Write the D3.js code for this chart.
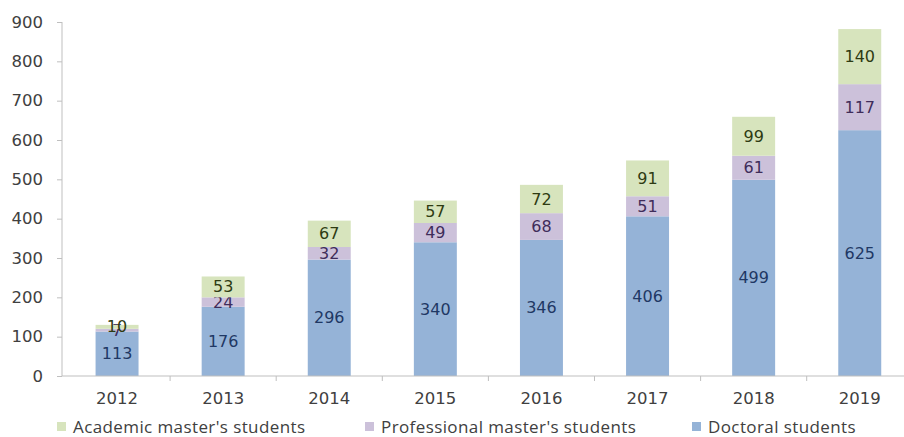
<!DOCTYPE html>
<html>
<head>
<meta charset="utf-8">
<script src="https://cdn.jsdelivr.net/npm/d3@7"></script>
<style>
  body { margin: 0; background: #fff; }
  text { font-family: "DejaVu Sans", sans-serif; }
  .axis path, .axis line { stroke: #bfbfbf; }
  .axis text { fill: #404040; font-size: 16.5px; }
  .lab { font-size: 16px; text-anchor: middle; dominant-baseline: central; }
  .leg { font-family: "Open Sans", sans-serif; font-size: 17px; letter-spacing: 0.4px; fill: #404040; dominant-baseline: central; }
</style>
</head>
<body>
<script>
// set up SVG
var w = 904;
var h = 437;

// plot edges
var pdL = 62;
var pdT = 22;
var yBase = 376;

// data
var years = ["2012", "2013", "2014", "2015", "2016", "2017", "2018", "2019"];
var doctoral = [113, 176, 296, 340, 346, 406, 499, 625];
var professional = [7, 24, 32, 49, 68, 51, 61, 117];
var academic = [10, 53, 67, 57, 72, 91, 99, 140];
var yTicks = [0, 100, 200, 300, 400, 500, 600, 700, 800, 900];

var seriesNames = ["Doctoral students", "Professional master's students", "Academic master's students"];
var seriesKeys = ["doc", "pro", "aca"];
var fillCols = ["#95b3d7", "#ccc1da", "#d7e4bd"];
var labCols = ["#1f3864", "#3f2d5a", "#2e3b12"];

// build rows for stacking
var rows = [];
for (var i = 0; i < years.length; i++) {
    rows.push({ year: years[i], doc: doctoral[i], pro: professional[i], aca: academic[i] });
}
var stacked = d3.stack().keys(seriesKeys)(rows);

// scales
var scaleX = d3.scaleBand()
               .domain(years)
               .range([pdL + 2, pdL + 2 + 8 * 106.1])
               .paddingInner(0.595)
               .paddingOuter(0.2975);
var scaleY = d3.scaleLinear()
               .domain([0, 900])
               .range([yBase, pdT]);

var svg = d3.select("body")
            .append("svg")
            .attr("width", w)
            .attr("height", h);

// bars
stacked.forEach(function(layer, k) {
    var g = svg.append("g");
    g.selectAll("rect")
     .data(layer)
     .enter()
     .append("rect")
     .attr("x", function(d) { return scaleX(d.data.year); })
     .attr("y", function(d) { return scaleY(d[1]); })
     .attr("width", scaleX.bandwidth())
     .attr("height", function(d) { return scaleY(d[0]) - scaleY(d[1]); })
     .attr("fill", fillCols[k]);

    // value labels
    g.selectAll("text")
     .data(layer)
     .enter()
     .append("text")
     .attr("class", "lab")
     .attr("x", function(d) { return scaleX(d.data.year) + scaleX.bandwidth() / 2; })
     .attr("y", function(d) { return scaleY((d[0] + d[1]) / 2); })
     .attr("fill", labCols[k])
     .text(function(d) { return d[1] - d[0]; });
});

// y axis
var axisY = d3.axisLeft(scaleY)
              .tickValues(yTicks)
              .tickSize(5)
              .tickPadding(14);
svg.append("g")
   .attr("class", "axis")
   .attr("transform", "translate(" + pdL + ",0)")
   .call(axisY)
   .call(function(g) { g.select(".domain").attr("d", "M0," + pdT + "V" + yBase); });

// x axis: line with ticks between categories
var xAxisG = svg.append("g").attr("class", "axis");
xAxisG.append("line")
      .attr("x1", pdL).attr("x2", w)
      .attr("y1", yBase).attr("y2", yBase);
var step = scaleX.step();
for (var i = 1; i < years.length; i++) {
    var tx = scaleX(years[i]) - (step - scaleX.bandwidth()) / 2;
    xAxisG.append("line")
          .attr("x1", tx).attr("x2", tx)
          .attr("y1", yBase).attr("y2", yBase + 5);
}
xAxisG.selectAll("text.xl")
      .data(years)
      .enter()
      .append("text")
      .attr("class", "xl")
      .attr("x", function(d) { return scaleX(d) + scaleX.bandwidth() / 2; })
      .attr("y", 398)
      .attr("text-anchor", "middle")
      .attr("dominant-baseline", "central")
      .text(function(d) { return d; });

// legend (academic, professional, doctoral)
var legX = [57, 365, 692];
var legOrder = [2, 1, 0];
for (var j = 0; j < 3; j++) {
    var s = legOrder[j];
    svg.append("rect")
       .attr("x", legX[j])
       .attr("y", 422)
       .attr("width", 9)
       .attr("height", 9)
       .attr("fill", fillCols[s]);
    svg.append("text")
       .attr("class", "leg")
       .attr("x", legX[j] + 16)
       .attr("y", 426)
       .text(seriesNames[s]);
}
</script>
</body>
</html>
